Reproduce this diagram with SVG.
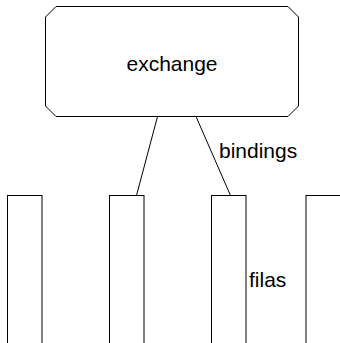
<svg xmlns="http://www.w3.org/2000/svg" width="340" height="343" viewBox="0 0 340 343">
  <style>
    .shape { fill: #ffffff; stroke: #000000; stroke-width: 1; }
    .link { fill: none; stroke: #000000; stroke-width: 1; }
    .label { font-family: "Liberation Sans", Arial, Helvetica, sans-serif; font-size: 21px; fill: #000000; }
  </style>
  <rect width="340" height="343" fill="#ffffff"/>

  <!-- connectors from the exchange to two of the queues -->
  <g id="connectors">
    <line class="link" x1="157.5" y1="116.5" x2="136.5" y2="195.5"/>
    <line class="link" x1="196" y1="116.5" x2="230.5" y2="195.5"/>
    <text class="label" x="219" y="158">bindings</text>
  </g>

  <!-- exchange: rectangle with chamfered corners -->
  <g id="exchange">
    <polygon class="shape" points="56,6.5 288,6.5 298.5,17 298.5,106 288,116.5 56,116.5 45.5,106 45.5,17"/>
    <text class="label" x="172" y="70.5" text-anchor="middle">exchange</text>
  </g>

  <!-- queues, running off the bottom edge -->
  <g id="queue-1">
    <rect class="shape" x="7.5" y="195.5" width="34.5" height="160"/>
  </g>
  <g id="queue-2">
    <rect class="shape" x="109.5" y="195.5" width="34.5" height="160"/>
  </g>
  <g id="queue-3">
    <rect class="shape" x="211.5" y="195.5" width="34.5" height="160"/>
  </g>
  <g id="queue-4">
    <rect class="shape" x="306" y="195.5" width="34.5" height="160"/>
  </g>

  <text class="label" x="249" y="286.5">filas</text>
</svg>
